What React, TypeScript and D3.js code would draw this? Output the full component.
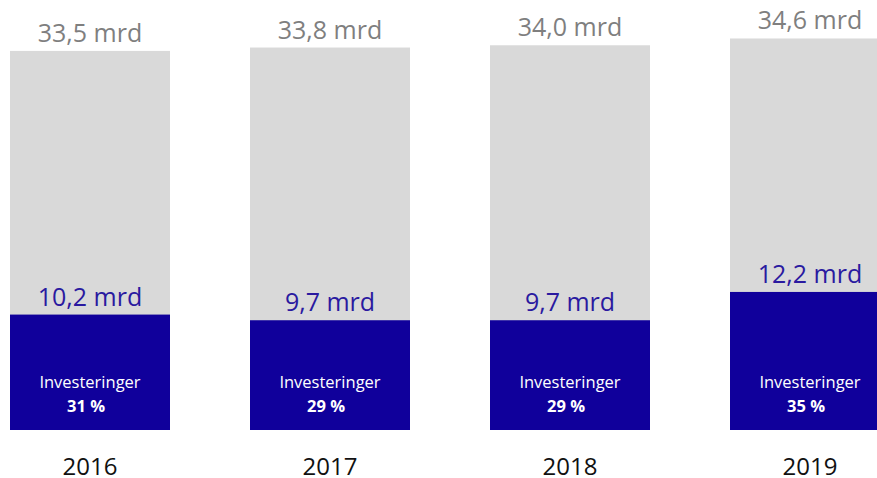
import React from "react";
import * as d3 from "d3";

const years = ["2016", "2017", "2018", "2019"];
const totals = [33.5, 33.8, 34.0, 34.6];
const investments = [10.2, 9.7, 9.7, 12.2];
const shares = [31, 29, 29, 35];
const totalLabels = ["33,5 mrd", "33,8 mrd", "34,0 mrd", "34,6 mrd"];
const investLabels = ["10,2 mrd", "9,7 mrd", "9,7 mrd", "12,2 mrd"];
const innerLabel = "Investeringer";

const W = 877;
const H = 478;
const FONT = "'Open Sans', 'Noto Sans', sans-serif";

export default function App() {
  const x = d3.scaleBand<string>().domain(years).range([10, 890]).paddingInner(1 / 3).paddingOuter(0);
  const y = d3.scaleLinear().domain([0, 38]).range([430, 0]);
  const bw = x.bandwidth();

  return (
    <svg width={W} height={H} style={{ position: "absolute", left: 0, top: 0, background: "#fff" }} fontFamily={FONT}>
      {years.map((yr, i) => {
        const x0 = x(yr)!;
        const cx = x0 + bw / 2;
        return (
          <g key={yr}>
            <rect x={x0} y={y(totals[i])} width={bw} height={y(0) - y(totals[i])} fill="#d9d9d9" />
            <rect x={x0} y={y(investments[i])} width={bw} height={y(0) - y(investments[i])} fill="#10009b" />
            <text x={cx} y={y(totals[i]) - 9} textAnchor="middle" fontSize={25} fill="#7f7f7f">
              {totalLabels[i]}
            </text>
            <text x={cx} y={y(investments[i]) - 9} textAnchor="middle" fontSize={25} fill="#2a1aa0">
              {investLabels[i]}
            </text>
            <text x={cx} y={y(0) - 42} textAnchor="middle" fontSize={16.5} fill="#ffffff">
              {innerLabel}
            </text>
            <text x={cx - 4} y={y(0) - 18} textAnchor="middle" fontSize={16.5} fontWeight="bold" fill="#ffffff">
              {`${shares[i]} %`}
            </text>
            <text x={cx} y={475} textAnchor="middle" fontSize={24} fill="#111">
              {yr}
            </text>
          </g>
        );
      })}
    </svg>
  );
}
